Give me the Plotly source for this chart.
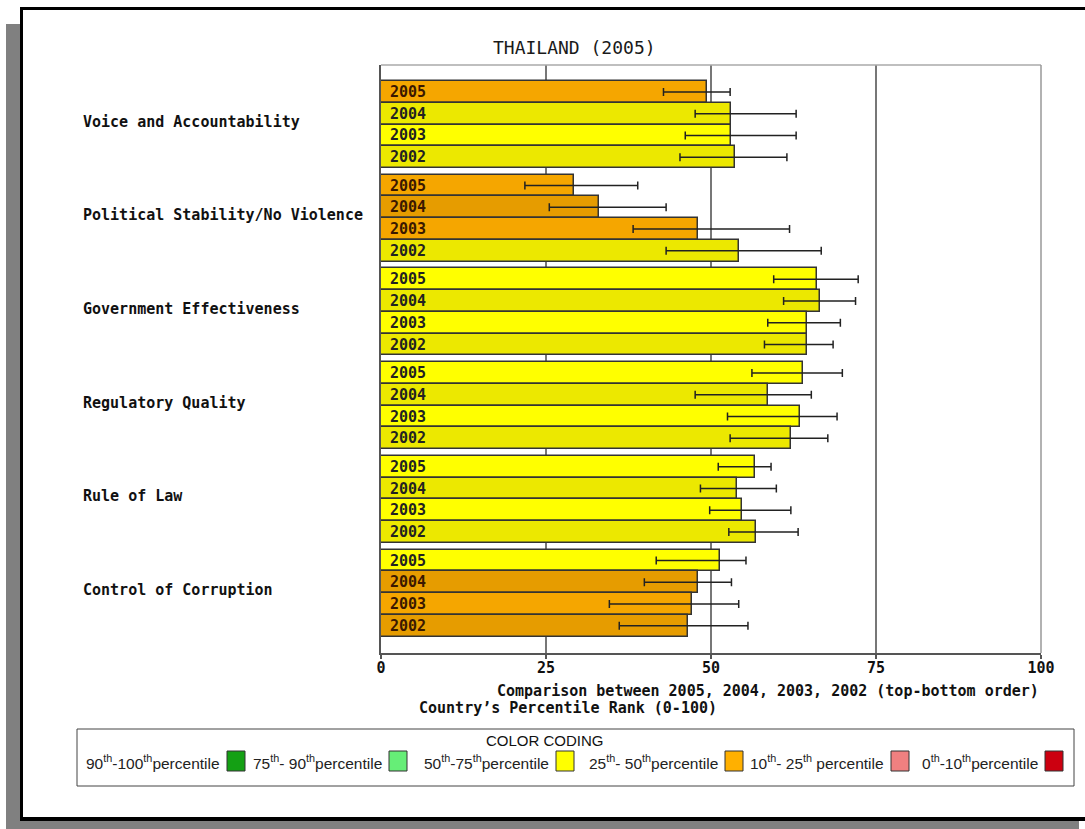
import plotly.graph_objects as go

# ---------------- data ----------------
categories = ["Voice and Accountability", "Political Stability/No Violence",
              "Government Effectiveness", "Regulatory Quality",
              "Rule of Law", "Control of Corruption"]
years = ["2005", "2004", "2003", "2002"]

rank_2005 = [49.4, 29.3, 66.1, 64.0, 56.6, 51.3]
low_2005 = [42.8, 21.8, 59.5, 56.2, 51.1, 41.7]
high_2005 = [52.9, 38.9, 72.3, 69.9, 59.1, 55.3]

rank_2004 = [53.1, 33.1, 66.5, 58.6, 53.9, 48.0]
low_2004 = [47.6, 25.5, 61.0, 47.6, 48.4, 39.9]
high_2004 = [62.9, 43.2, 71.9, 65.2, 59.9, 53.1]

rank_2003 = [53.1, 48.1, 64.5, 63.5, 54.7, 47.1]
low_2003 = [46.1, 38.2, 58.6, 52.5, 49.8, 34.6]
high_2003 = [62.9, 61.9, 69.6, 69.1, 62.1, 54.2]

rank_2002 = [53.7, 54.2, 64.5, 62.1, 56.8, 46.5]
low_2002 = [45.3, 43.2, 58.1, 52.9, 52.7, 36.1]
high_2002 = [61.5, 66.7, 68.5, 67.7, 63.2, 55.6]

x_ticks = [0, 25, 50, 75, 100]
x_tick_labels = ["0", "25", "50", "75", "100"]

legend_labels = ["90<sup>th</sup>-100<sup>th</sup>percentile",
                 "75<sup>th</sup>- 90<sup>th</sup>percentile",
                 "50<sup>th</sup>-75<sup>th</sup>percentile",
                 "25<sup>th</sup>- 50<sup>th</sup>percentile",
                 "10<sup>th</sup>- 25<sup>th</sup> percentile",
                 "0<sup>th</sup>-10<sup>th</sup>percentile"]
legend_colors = ["#14A014", "#66EE77", "#FFFF00", "#FFB000", "#F08080", "#CC0010"]

# ---------------- styling ----------------
W, H = 1085, 829
L, R, T, B = 381, 1041, 65, 653
BAR_PX = 21.75
GAP = 0.31
MONO = "DejaVu Sans Mono"
NARROW = "Liberation Sans Narrow, Arial Narrow, Liberation Sans"

# bright/dark shade per year (alternating)
shade_yellow = {"2005": "#FFFF00", "2004": "#ECE800", "2003": "#FFFF00", "2002": "#ECE800"}
shade_orange = {"2005": "#F5A600", "2004": "#E69C00", "2003": "#F5A600", "2002": "#E69C00"}


def px(x):
    return (x - L) / (R - L)


def py(y):
    return (B - y) / (B - T)


def bar_color(v, yr):
    return shade_yellow[yr] if v >= 50 else shade_orange[yr]


series = {
    "2005": (rank_2005, low_2005, high_2005),
    "2004": (rank_2004, low_2004, high_2004),
    "2003": (rank_2003, low_2003, high_2003),
    "2002": (rank_2002, low_2002, high_2002),
}

fig = go.Figure()
annotations = []
for i, yr in enumerate(years):
    vals, lows, highs = series[yr]
    ys = [g * (4 + GAP) + i + 0.5 for g in range(len(categories))]
    fig.add_trace(go.Bar(
        x=vals, y=ys, orientation="h", width=1.0,
        marker=dict(color=[bar_color(v, yr) for v in vals],
                    line=dict(color="#333333", width=1.5)),
        error_x=dict(type="data", symmetric=False,
                     array=[h - v for h, v in zip(highs, vals)],
                     arrayminus=[v - lo for v, lo in zip(vals, lows)],
                     color="#222222", thickness=1.5, width=4),
        name=yr, showlegend=False, hoverinfo="x",
    ))
    for v, yv in zip(vals, ys):
        annotations.append(dict(
            x=0, y=yv, xref="x", yref="y", text=yr, showarrow=False,
            xanchor="left", yanchor="middle", xshift=7,
            font=dict(family=MONO, size=15, weight="bold",
                      color="#222222" if v >= 50 else "#3a1800")))

# category labels
for g, cat in enumerate(categories):
    annotations.append(dict(
        x=px(81), y=g * (4 + GAP) + 2, xref="paper", yref="y", text=cat,
        showarrow=False, xanchor="left", yanchor="middle", yshift=3,
        font=dict(family=MONO, size=15, weight="bold", color="#111111")))

# title and axis captions
annotations += [
    dict(x=px(574), y=py(47), xref="paper", yref="paper", text="THAILAND (2005)",
         showarrow=False, xanchor="center", yanchor="middle",
         font=dict(family=MONO, size=18, color="#1a1a1a")),
    dict(x=px(1041), y=py(691), xref="paper", yref="paper",
         text="Comparison between 2005, 2004, 2003, 2002 (top-bottom order)",
         showarrow=False, xanchor="right", yanchor="middle",
         font=dict(family=MONO, size=15, weight="bold", color="#111111")),
    dict(x=px(417), y=py(708), xref="paper", yref="paper",
         text="Country’s Percentile Rank (0-100)",
         showarrow=False, xanchor="left", yanchor="middle",
         font=dict(family=MONO, size=15, weight="bold", color="#111111")),
    dict(x=px(545), y=py(740), xref="paper", yref="paper", text="COLOR CODING",
         showarrow=False, xanchor="center", yanchor="middle",
         font=dict(family=NARROW, size=15, color="#111111")),
]

shapes = []
# page frame decorations
shapes += [
    dict(type="rect", xref="paper", yref="paper", x0=px(6), x1=px(20), y0=py(24), y1=py(829),
         fillcolor="#808080", line_width=0, layer="below"),
    dict(type="rect", xref="paper", yref="paper", x0=px(6), x1=px(1079), y0=py(820), y1=py(829),
         fillcolor="#808080", line_width=0, layer="below"),
    dict(type="rect", xref="paper", yref="paper", x0=px(20), x1=px(1085), y0=py(7), y1=py(10),
         fillcolor="#000000", line_width=0),
    dict(type="rect", xref="paper", yref="paper", x0=px(20), x1=px(23), y0=py(7), y1=py(821),
         fillcolor="#000000", line_width=0),
    dict(type="rect", xref="paper", yref="paper", x0=px(20), x1=px(1085), y0=py(817), y1=py(821),
         fillcolor="#000000", line_width=0),
]
# plot frame (top, right) and gridlines
shapes += [
    dict(type="line", xref="paper", yref="paper", x0=0, x1=1, y0=1, y1=1,
         line=dict(color="#aaaaaa", width=1.5)),
    dict(type="line", xref="paper", yref="paper", x0=1, x1=1, y0=0, y1=1,
         line=dict(color="#999999", width=1.5)),
]
for v in x_ticks[1:-1]:
    shapes.append(dict(type="line", xref="x", yref="paper", x0=v, x1=v, y0=0, y1=1,
                       line=dict(color="#4a4a4a", width=1.5), layer="below"))
# legend box
shapes.append(dict(type="rect", xref="paper", yref="paper", x0=px(77), x1=px(1074),
                   y0=py(786), y1=py(729), line=dict(color="#444444", width=1)))
sq_x0 = [227, 389, 556, 725, 891, 1045]
for lab, col, sx in zip(legend_labels, legend_colors, sq_x0):
    shapes.append(dict(type="rect", xref="paper", yref="paper", x0=px(sx), x1=px(sx + 18),
                       y0=py(771), y1=py(751), fillcolor=col,
                       line=dict(color="#333333", width=1)))
    annotations.append(dict(x=px(sx - 5), y=py(762), xref="paper", yref="paper", text=lab,
                            showarrow=False, xanchor="right", yanchor="middle",
                            font=dict(family=NARROW, size=15.5, color="#222222")))

y_top = -(81 - T) / BAR_PX
y_bot = y_top + (B - T) / BAR_PX

fig.update_layout(
    width=W, height=H, autosize=False,
    margin=dict(l=L, r=W - R, t=T, b=H - B, pad=0),
    paper_bgcolor="white", plot_bgcolor="white",
    bargap=0, barmode="overlay",
    xaxis=dict(range=[0, 100], tickvals=x_ticks, ticktext=x_tick_labels,
               showgrid=False, zeroline=False, showline=True, linecolor="#555555", linewidth=1.5,
               ticks="outside", ticklen=4, tickcolor="#555555", tickwidth=1.5,
               ticklabelstandoff=-4,
               tickfont=dict(family=MONO, size=15, weight="bold", color="#111111")),
    yaxis=dict(range=[y_bot, y_top], showgrid=False, zeroline=False, showticklabels=False,
               showline=True, linecolor="#555555", linewidth=1.5, ticks=""),
    annotations=annotations,
    shapes=shapes,
)

fig.write_html("out.html", config={"displayModeBar": False},
               post_script="document.body.style.margin='0px';document.body.style.overflow='hidden';")
